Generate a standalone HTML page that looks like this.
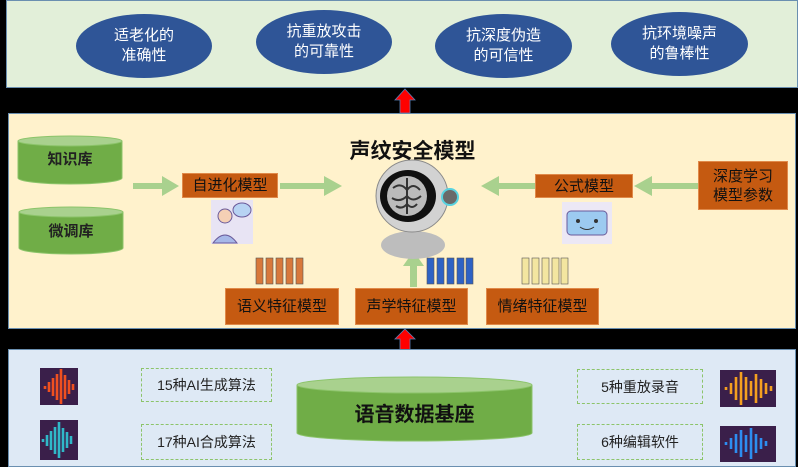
<!DOCTYPE html>
<html><head><meta charset="utf-8"><style>
html,body{margin:0;padding:0;background:#000;}
body{width:798px;height:467px;position:relative;overflow:hidden;font-family:"Liberation Sans","Noto Sans CJK SC",sans-serif;}
.a{position:absolute;}
.box{position:absolute;background:#c55a11;border:1px solid #e08a4a;color:#111;font-size:15px;display:flex;align-items:center;justify-content:center;text-align:center;box-sizing:border-box;line-height:19px;}
.dash{position:absolute;border:1.5px dashed #8cc46a;color:#222;font-size:14px;display:flex;align-items:center;justify-content:center;box-sizing:border-box;}
.ell{position:absolute;background:#2f5597;border-radius:50%;color:#fff;font-size:15px;display:flex;align-items:center;justify-content:center;text-align:center;line-height:20px;}
</style></head><body>
<div class="a" style="left:6px;top:0;width:792px;height:88px;background:#e2efd9;border:1px solid #6a8fb0;box-sizing:border-box;"></div>
<div class="ell" style="left:76px;top:14px;width:136px;height:64px;">适老化的<br>准确性</div>
<div class="ell" style="left:256px;top:10px;width:136px;height:64px;">抗重放攻击<br>的可靠性</div>
<div class="ell" style="left:435px;top:14px;width:137px;height:64px;">抗深度伪造<br>的可信性</div>
<div class="ell" style="left:611px;top:12px;width:137px;height:64px;">抗环境噪声<br>的鲁棒性</div>

<svg class="a" style="left:0;top:0" width="798" height="467">
<polygon points="405,89 415,100 410,100 410,113 400,113 400,100 395,100" fill="#ff0000" stroke="#5a7fb5" stroke-width="0.8"/>
<polygon points="405,329 415,339 410,339 410,350 400,350 400,339 395,339" fill="#ff0000" stroke="#5a7fb5" stroke-width="0.8"/>
</svg>

<div class="a" style="left:8px;top:113px;width:788px;height:216px;background:#fff2cc;border:1px solid #6a8fb0;box-sizing:border-box;"></div>
<div class="a" style="left:8px;top:349px;width:788px;height:118px;background:#dee9f5;border:1px solid #6a8fb0;box-sizing:border-box;"></div>

<svg class="a" style="left:0;top:0" width="798" height="467">
<g fill="#70ad47" stroke="#8cc46a">
<path d="M18,141 v37 a52,6 0 0 0 104,0 v-37"/><ellipse cx="70" cy="141" rx="52" ry="5" fill="#a9d18e"/>
<path d="M19,212 v36 a52,6 0 0 0 104,0 v-36"/><ellipse cx="71" cy="212" rx="52" ry="5" fill="#a9d18e"/>
<path d="M297,385 v48 a117,8 0 0 0 235,0 v-48"/><ellipse cx="414.5" cy="385" rx="117.5" ry="8" fill="#a9d18e"/>
</g>
<g fill="#a9d18e">
<rect x="133" y="183" width="30" height="6"/><polygon points="162,176 179,186 162,196"/>
<rect x="280" y="183" width="45" height="6"/><polygon points="324,176 342,186 324,196"/>
<rect x="498" y="183" width="37" height="6"/><polygon points="499,176 481,186 499,196"/>
<rect x="651" y="183" width="47" height="6"/><polygon points="652,176 634,186 652,196"/>
<rect x="410" y="264" width="7" height="23"/><polygon points="403,266 413.5,251 424,266"/>
</g>
<ellipse cx="413" cy="245" rx="32" ry="14" fill="#bdbdbd"/>
<circle cx="412" cy="196" r="36" fill="#d2d2d2" stroke="#8a8a8a"/>
<circle cx="450" cy="197" r="8" fill="#6a6a6a" stroke="#58d3e0" stroke-width="2"/>
<ellipse cx="408" cy="196" rx="28" ry="26" fill="#111"/>
<ellipse cx="407" cy="196" rx="20" ry="20" fill="#bbb"/>
<path d="M393,188 q8,-6 14,2 q6,-8 13,0 M392,198 q8,5 15,-2 q6,7 14,0 M396,206 q6,4 11,-2 q5,6 10,0 M407,178 v36" stroke="#333" stroke-width="2" fill="none"/>
<rect x="211" y="200" width="42" height="44" fill="#e8e4f4"/>
<circle cx="225" cy="216" r="7" fill="#f5d0b5" stroke="#6a5a9a"/>
<path d="M213,243 q12,-16 24,0z" fill="#a7b8e8" stroke="#6a5a9a"/>
<ellipse cx="242" cy="210" rx="9" ry="7" fill="#b7d3f3" stroke="#6a5a9a"/>
<rect x="562" y="202" width="50" height="42" fill="#ece8f5"/>
<rect x="567" y="211" width="40" height="24" rx="4" fill="#9ccaf0" stroke="#6a5a9a"/>
<circle cx="578" cy="221" r="2" fill="#333"/><circle cx="596" cy="221" r="2" fill="#333"/>
<path d="M580,227 q7,5 14,0" stroke="#333" fill="none"/>
<g stroke="#555" stroke-width="0.6">
<g fill="#d8783a"><rect x="256" y="258" width="7" height="26"/><rect x="266" y="258" width="7" height="26"/><rect x="276" y="258" width="7" height="26"/><rect x="286" y="258" width="7" height="26"/><rect x="296" y="258" width="7" height="26"/></g>
<g fill="#2e62c4"><rect x="427" y="258" width="7" height="26"/><rect x="437" y="258" width="7" height="26"/><rect x="447" y="258" width="7" height="26"/><rect x="457" y="258" width="7" height="26"/><rect x="466" y="258" width="7" height="26"/></g>
<g fill="#f3e6a0"><rect x="522" y="258" width="7" height="26"/><rect x="532" y="258" width="7" height="26"/><rect x="542" y="258" width="7" height="26"/><rect x="552" y="258" width="7" height="26"/><rect x="561" y="258" width="7" height="26"/></g>
</g>
<rect x="40" y="368" width="38" height="37" fill="#3a1f4a"/>
<rect x="40" y="420" width="38" height="40" fill="#3a1f4a"/>
<rect x="720" y="370" width="56" height="37" fill="#3a1f4a"/>
<rect x="720" y="426" width="56" height="36" fill="#3a1f4a"/>
<g stroke-width="2.6">
<path d="M45,386 v3 M49,382 v10 M53,378 v18 M57,374 v26 M61,369 v35 M65,375 v24 M69,380 v14 M73,384 v6" stroke="#f05020"/>
<path d="M43,439 v3 M47,435 v11 M51,431 v19 M55,427 v27 M59,422 v36 M63,428 v24 M67,432 v16 M71,436 v8" stroke="#30b8c8"/>
<path d="M726,387 v3 M731,383 v11 M736,377 v23 M741,372 v33 M746,377 v23 M751,381 v15 M756,374 v29 M761,379 v19 M766,383 v11 M771,386 v5" stroke="#f5a020"/>
<path d="M726,442 v3 M731,438 v11 M736,434 v19 M741,430 v27 M746,435 v17 M751,428 v31 M756,434 v19 M761,438 v11 M766,441 v5" stroke="#2d8ef0"/>
</g>
</svg>

<div class="a" style="left:18px;top:148px;width:104px;text-align:center;font-size:15px;font-weight:bold;color:#222;">知识库</div>
<div class="a" style="left:19px;top:220px;width:104px;text-align:center;font-size:15px;font-weight:bold;color:#222;">微调库</div>
<div class="a" style="left:340px;top:135px;width:145px;text-align:center;font-size:21px;font-weight:bold;color:#111;">声纹安全模型</div>
<div class="box" style="left:182px;top:173px;width:96px;height:25px;">自进化模型</div>
<div class="box" style="left:535px;top:174px;width:98px;height:24px;">公式模型</div>
<div class="box" style="left:698px;top:161px;width:90px;height:49px;">深度学习<br>模型参数</div>
<div class="box" style="left:225px;top:288px;width:114px;height:37px;">语义特征模型</div>
<div class="box" style="left:355px;top:288px;width:113px;height:37px;">声学特征模型</div>
<div class="box" style="left:486px;top:288px;width:113px;height:37px;">情绪特征模型</div>
<div class="a" style="left:297px;top:398px;width:235px;text-align:center;font-size:20px;font-weight:bold;color:#111;">语音数据基座</div>
<div class="dash" style="left:141px;top:368px;width:131px;height:34px;">15种AI生成算法</div>
<div class="dash" style="left:141px;top:424px;width:131px;height:36px;">17种AI合成算法</div>
<div class="dash" style="left:577px;top:369px;width:126px;height:35px;">5种重放录音</div>
<div class="dash" style="left:577px;top:424px;width:126px;height:36px;">6种编辑软件</div>
</body></html>
